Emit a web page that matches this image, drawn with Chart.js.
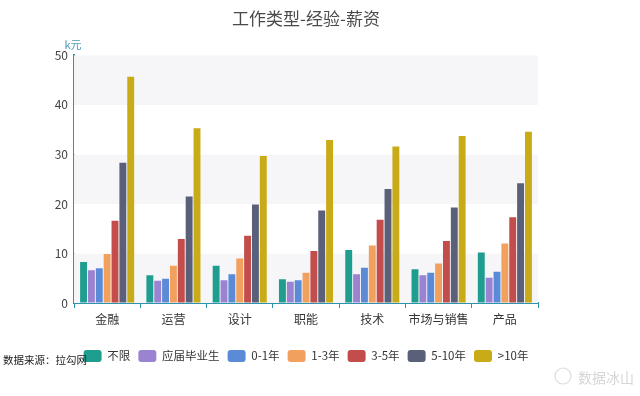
<!DOCTYPE html>
<html><head><meta charset="utf-8">
<script src="https://cdn.jsdelivr.net/npm/chart.js@4/dist/chart.umd.min.js"></script>
<style>html,body{margin:0;padding:0;background:#fff;}#wrap{width:640px;height:396px;}</style>
</head><body><div id="wrap"><canvas id="c" width="640" height="396"></canvas></div>
<script>
const categories = ['金融','运营','设计','职能','技术','市场与销售','产品'];
const seriesNames = ['不限','应届毕业生','0-1年','1-3年','3-5年','5-10年','>10年'];
const vBuxian  = [8.3, 5.6, 7.5, 4.8, 10.7, 6.8, 10.2];
const vYingjie = [6.6, 4.5, 4.6, 4.3, 5.8, 5.6, 5.1];
const v0to1    = [7.0, 4.9, 5.8, 4.6, 7.1, 6.1, 6.3];
const v1to3    = [9.9, 7.5, 9.0, 6.1, 11.6, 8.0, 12.0];
const v3to5    = [16.6, 12.9, 13.6, 10.5, 16.8, 12.5, 17.3];
const v5to10   = [28.3, 21.5, 19.9, 18.7, 23.0, 19.3, 24.2];
const vOver10  = [45.7, 35.3, 29.7, 32.9, 31.6, 33.7, 34.6];
const yTicks = [0, 10, 20, 30, 40, 50];

const seriesValues = [vBuxian, vYingjie, v0to1, v1to3, v3to5, v5to10, vOver10];
const colors = ['#1f9e8f','#9b83d2','#5b8bd6','#f2a05e','#c34d4b','#5a6079','#c9ab18'];
const FONT = "'Noto Sans CJK SC', 'Noto Sans', sans-serif";
const TEAL = '#2f93ad';

const bandPlugin = {
  id: 'bands',
  beforeDatasetsDraw(chart) {
    const {ctx, chartArea, scales} = chart;
    const y = scales.y;
    ctx.save();
    for (let i = 0; i < yTicks.length - 1; i++) {
      const top = y.getPixelForValue(yTicks[i + 1]);
      const bot = y.getPixelForValue(yTicks[i]);
      ctx.fillStyle = (i % 2 === 0) ? '#f6f6f9' : '#ffffff';
      ctx.fillRect(chartArea.left, top, chartArea.right - chartArea.left, bot - top);
    }
    ctx.restore();
  }
};

const textPlugin = {
  id: 'extraText',
  afterDraw(chart) {
    const {ctx, chartArea} = chart;
    ctx.save();
    ctx.font = '11px ' + FONT;
    ctx.fillStyle = '#4a98b5';
    ctx.textAlign = 'center';
    ctx.textBaseline = 'middle';
    ctx.fillText('k元', chartArea.left - 1, 45);
    ctx.font = '10.5px ' + FONT;
    ctx.fillStyle = '#222';
    ctx.textAlign = 'left';
    ctx.fillText('数据来源：拉勾网', 3, 360);
    ctx.font = '14px ' + FONT;
    ctx.fillStyle = '#d6d6d6';
    ctx.fillText('数据冰山', 578, 378);
    ctx.strokeStyle = '#dcdcdc';
    ctx.lineWidth = 1.2;
    ctx.beginPath();
    ctx.arc(563, 376, 8, 0, Math.PI * 2);
    ctx.stroke();
    ctx.restore();
  }
};

new Chart(document.getElementById('c'), {
  type: 'bar',
  data: {
    labels: categories,
    datasets: seriesNames.map((n, i) => ({
      label: n,
      data: seriesValues[i],
      backgroundColor: colors[i],
      borderWidth: 0,
      categoryPercentage: 0.83,
      barPercentage: 0.88
    }))
  },
  options: {
    responsive: false,
    devicePixelRatio: 1,
    animation: false,
    layout: { padding: { left: 0, right: 28, top: 0, bottom: 24 } },
    plugins: {
      title: {
        display: true,
        text: '工作类型-经验-薪资',
        fullSize: false,
        color: '#4a4a4a',
        font: { size: 17, family: FONT, weight: 'normal' },
        padding: { top: 8, bottom: 27 }
      },
      legend: {
        position: 'bottom',
        fullSize: true,
        labels: {
          boxWidth: 18, boxHeight: 12, useBorderRadius: true, borderRadius: 3,
          padding: 8, color: '#333',
          font: { size: 11.5, family: FONT }
        }
      },
      tooltip: { enabled: false }
    },
    scales: {
      x: {
        grid: { offset: true, drawOnChartArea: false, drawTicks: true, tickLength: 5, color: TEAL },
        border: { color: TEAL, width: 2 },
        ticks: { color: '#333', font: { size: 12, family: FONT }, padding: 4 },
        afterFit(s) { s.height = 39; }
      },
      y: {
        min: 0, max: 50,
        ticks: { stepSize: 10, color: '#444', font: { size: 12, family: FONT }, padding: 6 },
        grid: { drawOnChartArea: false, drawTicks: false, color: 'rgba(0,0,0,0)' },
        border: { color: TEAL, width: 2 },
        afterFit(s) { s.width = 74; }
      },
      yRight: {
        type: 'linear',
        position: 'right',
        display: true,
        ticks: { display: false },
        grid: { display: false, drawTicks: false },
        border: { display: false },
        afterFit(s) { s.width = 74; }
      }
    }
  },
  plugins: [bandPlugin, textPlugin]
});
</script>
</body></html>
